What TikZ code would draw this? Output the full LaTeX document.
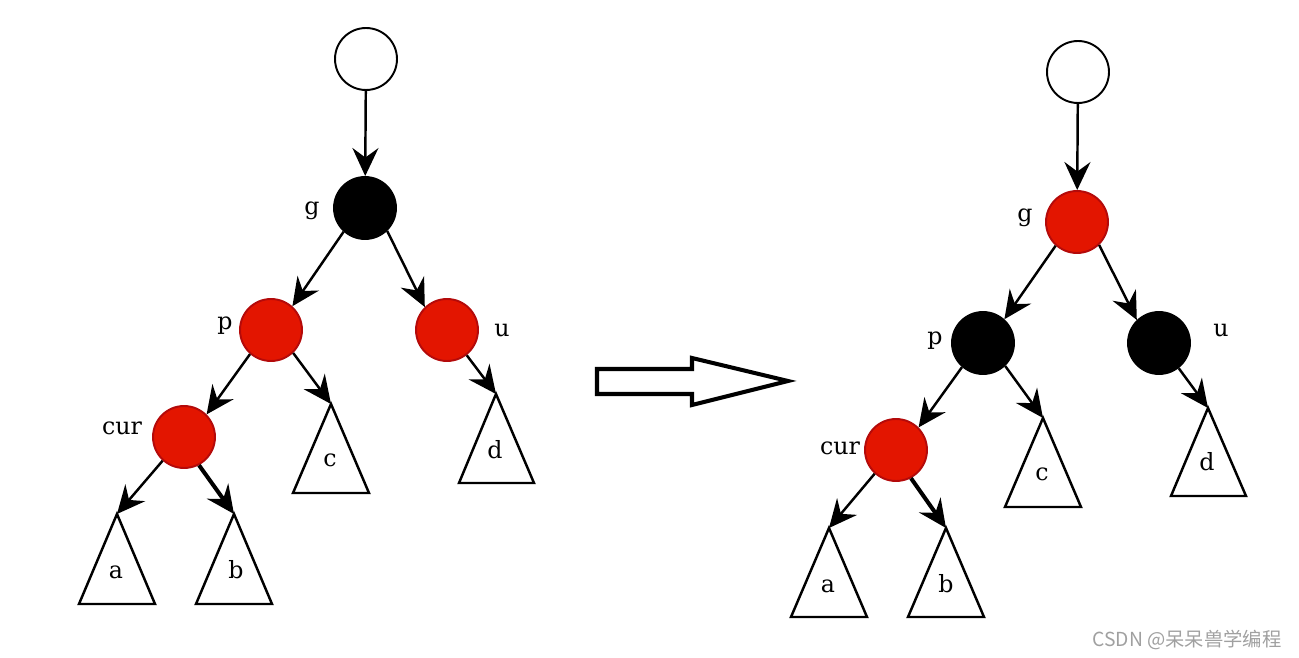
\documentclass[tikz,border=0pt]{standalone}
\usepackage{fontspec}
\setmainfont{DejaVu Serif}
\newfontfamily\cjk{Noto Sans CJK SC}
\usetikzlibrary{arrows.meta}
\definecolor{rbred}{RGB}{227,21,0}
\definecolor{rbredline}{RGB}{180,10,10}
\definecolor{markgray}{RGB}{160,160,160}
\begin{document}
\begin{tikzpicture}[x=0.02cm, y=-0.02cm,
    nd/.style={circle, minimum size=1.24cm, inner sep=0pt, line width=1.1pt},
    whitend/.style={nd, draw=black, fill=white},
    blacknd/.style={nd, draw=black, fill=black},
    rednd/.style={nd, draw=rbredline, fill=rbred},
    link/.style={line width=1.4pt, -{Stealth[length=5.6mm, width=5.2mm, inset=1.9mm]}},
    tri/.style={line width=1.4pt, line join=miter},
    lbl/.style={font=\fontsize{13.5}{15}\selectfont, anchor=base}]
    \useasboundingbox (0,0) rectangle (1299,658);

    % left tree
    \node[whitend] (root) at (366,59) {};
    \node[blacknd] (g) at (365,208) {};
    \node[rednd] (p) at (271,330) {};
    \node[rednd] (u) at (447,330) {};
    \node[rednd] (cur) at (184,437) {};
    \coordinate (ta) at (117,514);
    \coordinate (tb) at (234,514);
    \coordinate (tc) at (331,404);
    \coordinate (td) at (496,394);
    \draw[tri] (ta) -- ++(-38,90) -- ++(76,0) -- cycle;
    \draw[tri] (tb) -- ++(-38,90) -- ++(76,0) -- cycle;
    \draw[tri] (tc) -- ++(-38,89) -- ++(76,0) -- cycle;
    \draw[tri] (td) -- ++(-37,89) -- ++(75,0) -- cycle;
    \node[lbl] (la) at (116,579) {a};
    \node[lbl] (lb) at (236,579) {b};
    \node[lbl] (lc) at (330,467) {c};
    \node[lbl] (ld) at (495,459) {d};
    \node[lbl] (lg) at (312,215) {g};
    \node[lbl] (lp) at (225,330) {p};
    \node[lbl] (lu) at (502,337) {u};
    \node[lbl] (lcur) at (122,435) {cur};
    \draw[link] (root) -- (g);
    \draw[link] (g.-132) -- (p.48);
    \draw[link] (g.-46) -- (u.134);
    \draw[link] (p.-131) -- (cur.45);
    \draw[link] (p.-46) -- (tc);
    \draw[link] (u.-52) -- (td);
    \draw[link] (cur.-132) -- (ta);
    \draw[link, line width=2.3pt] (cur.-62) -- (tb);

    % transform arrow
    \draw[line width=2.3pt, line join=miter] (597,369) -- (692,369) -- (692,358) -- (788,381)
        -- (692,405) -- (692,394) -- (597,394) -- cycle;

    % right tree
    \node[whitend] (rroot) at (1078,72) {};
    \node[rednd] (rg) at (1077,222) {};
    \node[blacknd] (rp) at (983,343) {};
    \node[blacknd] (ru) at (1159,343) {};
    \node[rednd] (rcur) at (896,450) {};
    \coordinate (rta) at (829,528);
    \coordinate (rtb) at (946,528);
    \coordinate (rtc) at (1043,418);
    \coordinate (rtd) at (1208,408);
    \draw[tri] (rta) -- ++(-38,89) -- ++(76,0) -- cycle;
    \draw[tri] (rtb) -- ++(-38,89) -- ++(76,0) -- cycle;
    \draw[tri] (rtc) -- ++(-38,89) -- ++(76,0) -- cycle;
    \draw[tri] (rtd) -- ++(-37,88) -- ++(75,0) -- cycle;
    \node[lbl] (rla) at (828,593) {a};
    \node[lbl] (rlb) at (946,593) {b};
    \node[lbl] (rlc) at (1042,481) {c};
    \node[lbl] (rld) at (1207,471) {d};
    \node[lbl] (rlg) at (1025,222) {g};
    \node[lbl] (rlp) at (935,345) {p};
    \node[lbl] (rlu) at (1221,337) {u};
    \node[lbl] (rlcur) at (840,455) {cur};
    \draw[link] (rroot) -- (rg);
    \draw[link] (rg.-132) -- (rp.48);
    \draw[link] (rg.-46) -- (ru.134);
    \draw[link] (rp.-131) -- (rcur.45);
    \draw[link] (rp.-46) -- (rtc);
    \draw[link] (ru.-52) -- (rtd);
    \draw[link] (rcur.-132) -- (rta);
    \draw[link, line width=2.3pt] (rcur.-62) -- (rtb);

    \node[text=markgray, font=\cjk\fontsize{11}{13}\selectfont] (mark) at (1187,640) {CSDN @呆呆兽学编程};
\end{tikzpicture}
\end{document}
